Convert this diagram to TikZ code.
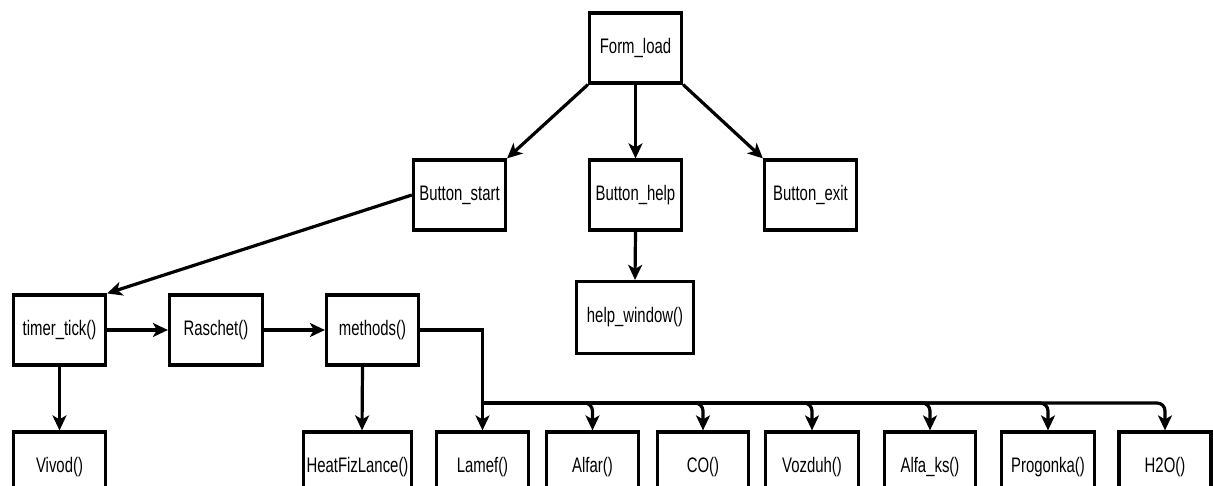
\documentclass[tikz,border=0pt]{standalone}
\usepackage{fontspec}
\setmainfont{Liberation Sans}[FakeStretch=0.71]
\usetikzlibrary{arrows.meta}
\begin{document}
\begin{tikzpicture}[x=1pt,y=-1pt,
  box/.style={draw, line width=3.2pt, inner sep=0pt, font=\fontsize{21}{24}\selectfont, minimum height=70pt, minimum width=92pt},
  arr/.style={line width=3.2pt, -{Stealth[length=15pt,width=14pt,inset=4pt]}},
  bus/.style={arr, rounded corners=8pt}]
\useasboundingbox (0,0) rectangle (1213,486);
\clip (0,0) rectangle (1213,486);
\fill[white] (0,0) rectangle (1213,486);
% top
\node[box] (form) at (635.5,48) {\raisebox{-1.5pt}{Form\_load}};
\node[box] (bstart) at (459.5,195) {\raisebox{-1.5pt}{Button\_start}};
\node[box] (bhelp) at (635.5,195) {\raisebox{-1.5pt}{Button\_help}};
\node[box] (bexit) at (810.5,195) {\raisebox{-1.5pt}{Button\_exit}};
\node[box, minimum width=117pt, minimum height=72pt] (hwin) at (635,317.5) {help\_window()};
% row 2
\node[box] (timer) at (59.5,330) {\raisebox{-6pt}{timer\_tick()}};
\node[box, minimum width=93pt] (rasch) at (216,330) {\raisebox{-1pt}{Raschet()}};
\node[box] (meth) at (372.5,330) {\raisebox{-3pt}{methods()}};
% bottom
\begin{scope}[every node/.append style={minimum height=56pt}]
\node[box] (vivod) at (59.5,467) {Vivod()};
\node[box, minimum width=108pt] (heat) at (357.5,467) {HeatFizLance()};
\node[box] (lamef) at (482.5,467) {Lamef()};
\node[box] (alfar) at (592.5,467) {Alfar()};
\node[box, minimum width=91pt] (co) at (703,467) {CO()};
\node[box, minimum width=93pt] (vozd) at (812,467) {Vozduh()};
\node[box, minimum width=91pt] (alfks) at (930,467) {Alfa\_ks()};
\node[box, minimum width=93pt] (prog) at (1048,467) {Progonka()};
\node[box] (h2o) at (1165,467) {H2O()};
\end{scope}
% connectors
\draw[arr] (form.south west) -- (bstart.north east);
\draw[arr] (form.south) -- (bhelp.north);
\draw[arr] (form.south east) -- (bexit.north west);
\draw[arr] (bhelp.south) -- (hwin.north);
\draw[arr] (bstart.west) -- (timer.north east);
\draw[arr] (timer.east) -- (rasch.west);
\draw[arr] (rasch.east) -- (meth.west);
\draw[arr] (timer.south) -- (vivod.north);
\draw[arr] ([xshift=-10pt]meth.south) -- ([xshift=4.5pt]heat.north);
\draw[arr] (meth.east) -| (lamef.north);
\coordinate (busstart) at (lamef.north |- 0,403);
\foreach \n in {alfar,co,vozd,alfks,prog,h2o}{
  \draw[bus] (busstart) -| (\n.north);
}
\end{tikzpicture}
\end{document}
